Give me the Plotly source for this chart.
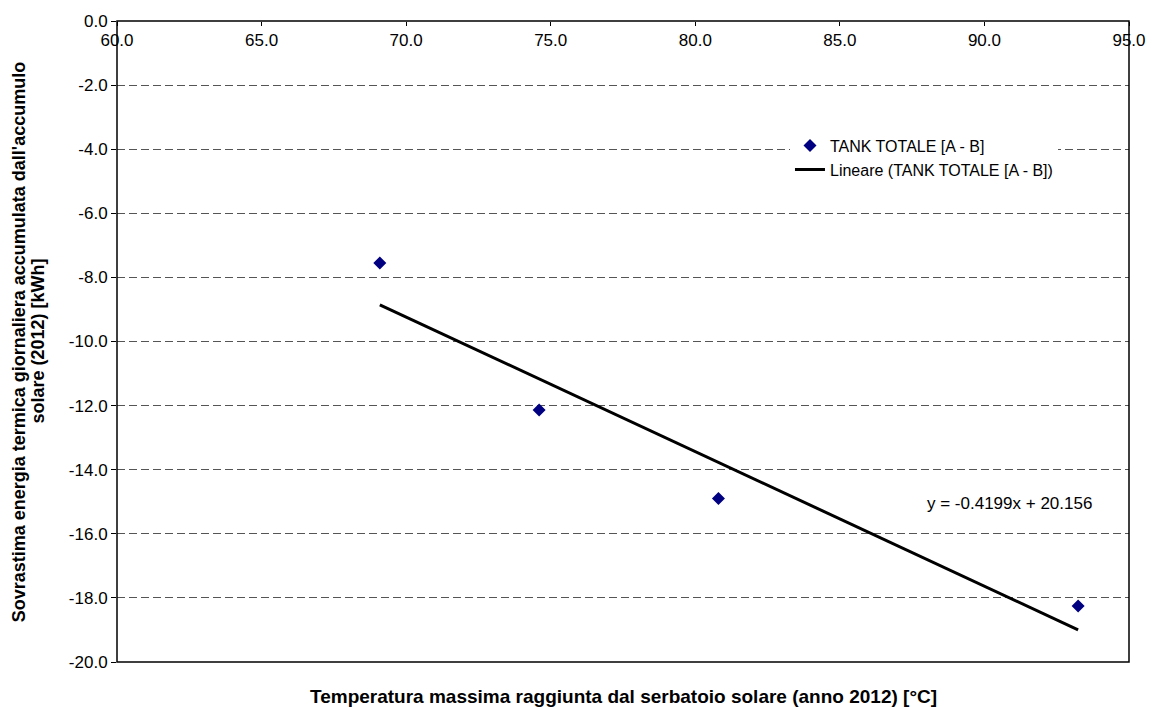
import plotly.graph_objects as go

# Temperatura massima del serbatoio solare [°C] e sovrastima energetica [kWh]
temperature = [69.09, 74.6, 80.8, 93.24]
sovrastima = [-7.55, -12.14, -14.9, -18.25]

# Coefficienti della retta di tendenza lineare
slope = -0.4199
intercept = 20.156

x_ticks = [60, 65, 70, 75, 80, 85, 90, 95]
y_ticks = [0, -2, -4, -6, -8, -10, -12, -14, -16, -18, -20]

font_family = "Liberation Sans, Arial, sans-serif"

trend_x = [min(temperature), max(temperature)]
trend_y = [slope * t + intercept for t in trend_x]

fig = go.Figure()

fig.add_trace(go.Scatter(
    x=temperature, y=sovrastima,
    mode="markers",
    name="TANK TOTALE [A - B]",
    marker=dict(symbol="diamond", size=10, color="#000080"),
))

fig.add_trace(go.Scatter(
    x=trend_x, y=trend_y,
    mode="lines",
    name="Lineare (TANK TOTALE [A - B])",
    line=dict(color="black", width=3),
))

# Equazione della retta di tendenza
fig.add_annotation(
    x=90.86, y=-15.05, xref="x", yref="y",
    text=f"y = {slope}x + {intercept}",
    showarrow=False,
    font=dict(size=17, color="black", family=font_family),
)

# Cornice dell'area del grafico
fig.add_shape(
    type="rect", xref="paper", yref="paper",
    x0=0, x1=1, y0=0, y1=1,
    line=dict(color="black", width=1.5),
    layer="above",
)

fig.update_layout(
    width=1158, height=707,
    margin=dict(l=117, r=25, t=16, b=45),
    paper_bgcolor="white",
    plot_bgcolor="white",
    font=dict(family=font_family, size=17, color="black"),
    showlegend=True,
    legend=dict(
        x=0.665, y=0.832, xanchor="left", yanchor="top",
        bgcolor="white",
        font=dict(size=16, family=font_family, color="black"),
        tracegroupgap=0,
    ),
    xaxis=dict(
        range=[60, 95],
        anchor="free", position=1, side="bottom",
        tickvals=x_ticks,
        ticktext=[f"{v:.1f}" for v in x_ticks],
        ticks="outside", ticklen=4, tickcolor="black", tickwidth=1,
        showline=False,
        showgrid=False, zeroline=False,
        tickfont=dict(size=17),
    ),
    yaxis=dict(
        range=[-20, 0],
        tickvals=y_ticks,
        ticktext=[f"{v:.1f}" for v in y_ticks],
        ticks="outside", ticklen=5, tickcolor="black",
        showline=False,
        showgrid=True, gridcolor="#555555", griddash="8px,4px", gridwidth=1,
        zeroline=False,
        tickfont=dict(size=17),
    ),
)

# Titoli degli assi
fig.add_annotation(
    x=0.5, y=-0.035, xref="paper", yref="paper",
    xanchor="center", yanchor="top",
    text="<b>Temperatura massima raggiunta dal serbatoio solare (anno 2012) [°C]</b>",
    showarrow=False,
    font=dict(size=19, family=font_family, color="black"),
)
y_title_lines = [
    "Sovrastima energia termica giornaliera accumulata dall'accumulo",
    "solare (2012) [kWh]",
]
for line, xpos in zip(y_title_lines, [-0.097, -0.079]):
    fig.add_annotation(
        x=xpos, y=0.5, xref="paper", yref="paper",
        xanchor="center", yanchor="middle",
        text=f"<b>{line}</b>",
        textangle=-90,
        showarrow=False,
        font=dict(size=18, family=font_family, color="black"),
    )

fig.write_html("out.html")
